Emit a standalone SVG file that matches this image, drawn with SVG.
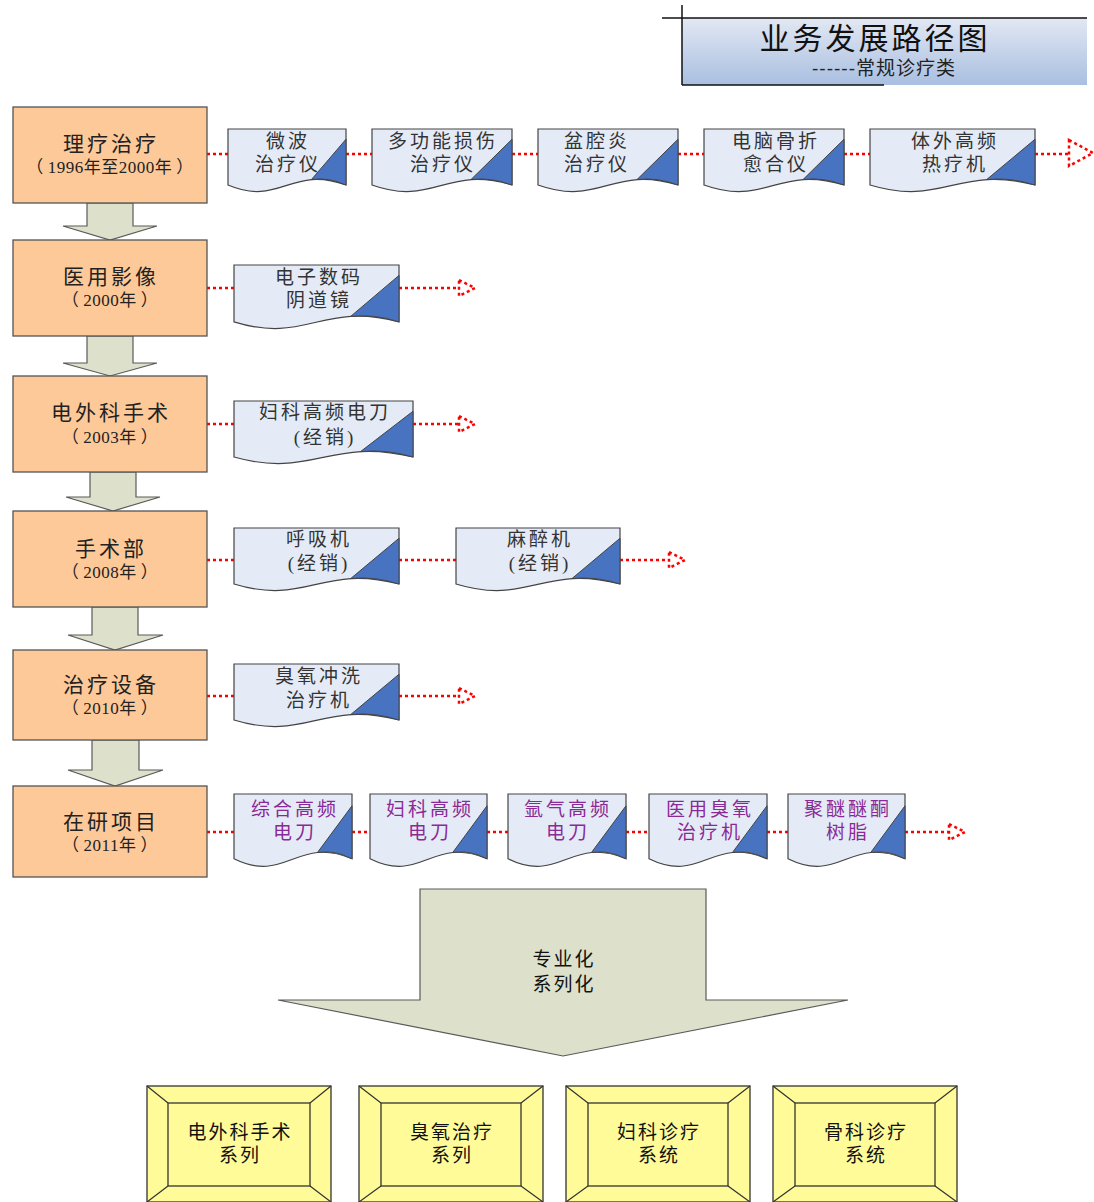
<svg xmlns="http://www.w3.org/2000/svg" width="1094" height="1202" viewBox="0 0 1094 1202">
<style>
.stage{fill:#fdc998;stroke:#555;stroke-width:1.3}
.step{fill:#dde1cb;stroke:#5a5a5a;stroke-width:1.2}
.link{fill:none;stroke:#ff0000;stroke-width:2.5;stroke-dasharray:3 3}
.head{fill:#fff;stroke:#ff0000;stroke-width:2.5;stroke-dasharray:3 3}
.t-main{font-family:"Liberation Serif","Noto Sans CJK SC",serif;font-size:21px;letter-spacing:3px;fill:#222;text-anchor:middle}
.t-year{font-family:"Liberation Serif","Noto Sans CJK SC",serif;font-size:17px;letter-spacing:0.5px;fill:#222;text-anchor:middle}
.t-doc{font-family:"Liberation Serif","Noto Sans CJK SC",serif;font-size:19px;letter-spacing:3px;fill:#333;text-anchor:middle}
.t-dev{font-family:"Liberation Serif","Noto Sans CJK SC",serif;font-size:19px;letter-spacing:3px;fill:#8a2a96;text-anchor:middle}
.t-sys{font-family:"Liberation Sans","Noto Sans CJK SC",sans-serif;font-size:19px;letter-spacing:2px;fill:#111;text-anchor:middle}
.bev{fill:#fffb98;stroke:#333;stroke-width:1.3}
</style>
<defs>
<linearGradient id="tg" x1="0" y1="0" x2="0" y2="1">
<stop offset="0" stop-color="#e2e8f3"/>
<stop offset="1" stop-color="#a9bfe1"/>
</linearGradient>
<symbol id="doc" viewBox="0 0 100 100" preserveAspectRatio="none" overflow="visible">
<path d="M0,0 H100 V87.5 C53,56 44,122 0,87.5 Z" fill="#e4ebf6" stroke="#444" stroke-width="1.2" vector-effect="non-scaling-stroke"/>
<path d="M100,16 L70.7,79.1 Q85,75 100,87.5 Z" fill="#4773c0" stroke="#444" stroke-width="1" vector-effect="non-scaling-stroke"/>
</symbol>
</defs>
<rect width="1094" height="1202" fill="#fff"/>

<g id="title">
<rect x="682" y="18" width="405" height="67" fill="url(#tg)"/>
<line x1="662" y1="18" x2="1087" y2="18" stroke="#111" stroke-width="1.5"/>
<line x1="682" y1="5" x2="682" y2="85" stroke="#111" stroke-width="1.5"/>
<line x1="682" y1="85" x2="884" y2="85" stroke="#111" stroke-width="1.5"/>
<text x="875" y="49" font-family="'Liberation Sans','Noto Sans CJK SC',sans-serif" font-size="30" letter-spacing="3" text-anchor="middle" fill="#111">业务发展路径图</text>
<text x="884" y="75" font-family="'Liberation Sans','Noto Sans CJK SC',sans-serif" font-size="19" letter-spacing="1" text-anchor="middle" fill="#222">------常规诊疗类</text>
</g>

<g id="connectors">
<path class="link" d="M207,154 H228 M346,154 H372 M512,154 H538 M678,154 H704 M844,154 H870 M1035,154 H1068"/>
<path class="head" d="M1069,140 L1093,153 L1069,166 Z"/>
<path class="link" d="M207,288 H234 M399,288 H458"/>
<path class="head" d="M459,280 L475,288 L459,296 Z"/>
<path class="link" d="M207,424 H234 M413,424 H458"/>
<path class="head" d="M459,416 L475,424 L459,432 Z"/>
<path class="link" d="M207,560 H234 M399,560 H456 M620,560 H668"/>
<path class="head" d="M669,552 L685,560 L669,568 Z"/>
<path class="link" d="M207,696 H234 M399,696 H458"/>
<path class="head" d="M459,688 L475,696 L459,704 Z"/>
<path class="link" d="M207,832 H234 M352,832 H370 M487,832 H508 M626,832 H649 M767,832 H788 M905,832 H948"/>
<path class="head" d="M949,824 L965,832 L949,840 Z"/>
<path class="step" d="M87,203 H133 V226 H157 L110,240 L63,226 H87 Z"/>
<path class="step" d="M87,336 H133 V363 H157 L110,376 L63,363 H87 Z"/>
<path class="step" d="M90,472 H136 V497 H160 L113,511 L66,497 H90 Z"/>
<path class="step" d="M92,607 H138 V635 H163 L115,650 L68,635 H92 Z"/>
<path class="step" d="M92,740 H139 V770 H163 L115,786 L68,770 H92 Z"/>
</g>

<g id="stage1"><rect class="stage" x="13" y="107" width="194" height="96"/>
<text class="t-main" x="111" y="151">理疗治疗</text><text class="t-year" x="110" y="173">（<tspan dx="4">1996年至2000年</tspan><tspan dx="4">）</tspan></text></g>
<g id="stage2"><rect class="stage" x="13" y="240" width="194" height="96"/>
<text class="t-main" x="111" y="284">医用影像</text><text class="t-year" x="110" y="306">（<tspan dx="4">2000年</tspan><tspan dx="4">）</tspan></text></g>
<g id="stage3"><rect class="stage" x="13" y="376" width="194" height="96"/>
<text class="t-main" x="111" y="420">电外科手术</text><text class="t-year" x="110" y="443">（<tspan dx="4">2003年</tspan><tspan dx="4">）</tspan></text></g>
<g id="stage4"><rect class="stage" x="13" y="511" width="194" height="96"/>
<text class="t-main" x="111" y="556">手术部</text><text class="t-year" x="110" y="578">（<tspan dx="4">2008年</tspan><tspan dx="4">）</tspan></text></g>
<g id="stage5"><rect class="stage" x="13" y="650" width="194" height="90"/>
<text class="t-main" x="111" y="692">治疗设备</text><text class="t-year" x="110" y="714">（<tspan dx="4">2010年</tspan><tspan dx="4">）</tspan></text></g>
<g id="stage6"><rect class="stage" x="13" y="786" width="194" height="91"/>
<text class="t-main" x="111" y="829">在研项目</text><text class="t-year" x="110" y="851">（<tspan dx="4">2011年</tspan><tspan dx="4">）</tspan></text></g>

<g id="d1"><use href="#doc" x="228" y="129" width="118" height="64"/><text class="t-doc" x="288" y="148">微波</text><text class="t-doc" x="288" y="171">治疗仪</text></g>
<g id="d2"><use href="#doc" x="372" y="129" width="140" height="64"/><text class="t-doc" x="443" y="148">多功能损伤</text><text class="t-doc" x="443" y="171">治疗仪</text></g>
<g id="d3"><use href="#doc" x="538" y="129" width="140" height="64"/><text class="t-doc" x="597" y="148">盆腔炎</text><text class="t-doc" x="597" y="171">治疗仪</text></g>
<g id="d4"><use href="#doc" x="704" y="129" width="140" height="64"/><text class="t-doc" x="776" y="148">电脑骨折</text><text class="t-doc" x="776" y="171">愈合仪</text></g>
<g id="d5"><use href="#doc" x="870" y="129" width="165" height="64"/><text class="t-doc" x="955" y="148">体外高频</text><text class="t-doc" x="955" y="171">热疗机</text></g>
<g id="d6"><use href="#doc" x="234" y="265" width="165" height="65"/><text class="t-doc" x="319" y="284">电子数码</text><text class="t-doc" x="319" y="307">阴道镜</text></g>
<g id="d7"><use href="#doc" x="234" y="401" width="179" height="64"/><text class="t-doc" x="325" y="419">妇科高频电刀</text><text class="t-doc" x="325" y="444">(经销)</text></g>
<g id="d8"><use href="#doc" x="234" y="528" width="165" height="64"/><text class="t-doc" x="319" y="546">呼吸机</text><text class="t-doc" x="319" y="570">(经销)</text></g>
<g id="d9"><use href="#doc" x="456" y="528" width="164" height="64"/><text class="t-doc" x="540" y="546">麻醉机</text><text class="t-doc" x="540" y="570">(经销)</text></g>
<g id="d10"><use href="#doc" x="234" y="664" width="165" height="64"/><text class="t-doc" x="319" y="683">臭氧冲洗</text><text class="t-doc" x="319" y="707">治疗机</text></g>
<g id="d11"><use href="#doc" x="234" y="794" width="118" height="74"/><text class="t-dev" x="295" y="816">综合高频</text><text class="t-dev" x="295" y="839">电刀</text></g>
<g id="d12"><use href="#doc" x="370" y="794" width="117" height="74"/><text class="t-dev" x="430" y="816">妇科高频</text><text class="t-dev" x="430" y="839">电刀</text></g>
<g id="d13"><use href="#doc" x="508" y="794" width="118" height="74"/><text class="t-dev" x="568" y="816">氩气高频</text><text class="t-dev" x="568" y="839">电刀</text></g>
<g id="d14"><use href="#doc" x="649" y="794" width="118" height="74"/><text class="t-dev" x="710" y="816">医用臭氧</text><text class="t-dev" x="710" y="839">治疗机</text></g>
<g id="d15"><use href="#doc" x="788" y="794" width="117" height="74"/><text class="t-dev" x="848" y="816">聚醚醚酮</text><text class="t-dev" x="848" y="839">树脂</text></g>

<g id="bigarrow">
<path class="step" d="M420,889 H706 V1000 H848 L563,1056 L278,1000 H420 Z"/>
<text class="t-sys" x="564" y="966">专业化</text>
<text class="t-sys" x="564" y="991">系列化</text>
</g>

<g id="sys1">
<rect class="bev" x="147" y="1086" width="184" height="116"/>
<rect class="bev" x="168" y="1103" width="142" height="83"/>
<path d="M147,1086 L168,1103 M331,1086 L310,1103 M147,1202 L168,1186 M331,1202 L310,1186" stroke="#333" stroke-width="1.2"/>
<text class="t-sys" x="240" y="1139">电外科手术</text><text class="t-sys" x="240" y="1162">系列</text>
</g>
<g id="sys2">
<rect class="bev" x="359" y="1086" width="184" height="116"/>
<rect class="bev" x="381" y="1103" width="140" height="83"/>
<path d="M359,1086 L381,1103 M543,1086 L521,1103 M359,1202 L381,1186 M543,1202 L521,1186" stroke="#333" stroke-width="1.2"/>
<text class="t-sys" x="452" y="1139">臭氧治疗</text><text class="t-sys" x="452" y="1162">系列</text>
</g>
<g id="sys3">
<rect class="bev" x="566" y="1086" width="184" height="116"/>
<rect class="bev" x="588" y="1103" width="140" height="83"/>
<path d="M566,1086 L588,1103 M750,1086 L728,1103 M566,1202 L588,1186 M750,1202 L728,1186" stroke="#333" stroke-width="1.2"/>
<text class="t-sys" x="659" y="1139">妇科诊疗</text><text class="t-sys" x="659" y="1162">系统</text>
</g>
<g id="sys4">
<rect class="bev" x="773" y="1086" width="184" height="116"/>
<rect class="bev" x="795" y="1103" width="140" height="83"/>
<path d="M773,1086 L795,1103 M957,1086 L935,1103 M773,1202 L795,1186 M957,1202 L935,1186" stroke="#333" stroke-width="1.2"/>
<text class="t-sys" x="866" y="1139">骨科诊疗</text><text class="t-sys" x="866" y="1162">系统</text>
</g>
</svg>
